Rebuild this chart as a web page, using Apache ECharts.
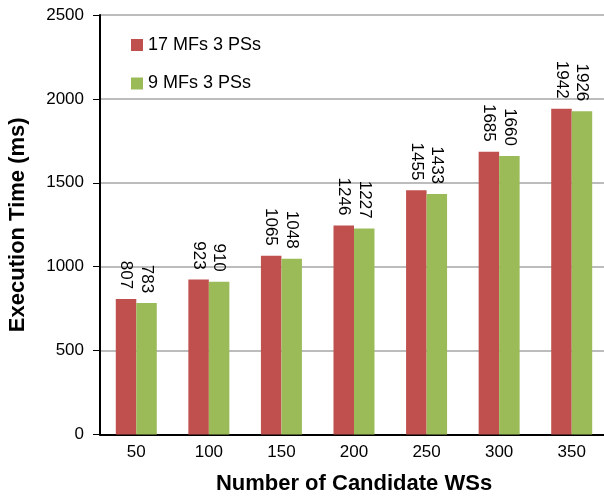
<!DOCTYPE html>
<html>
<head>
<meta charset="utf-8">
<script src="https://cdn.jsdelivr.net/npm/echarts@6/dist/echarts.min.js"></script>
<style>
  html, body { margin: 0; padding: 0; background: #fff; }
  #chart { width: 604px; height: 497px; }
</style>
</head>
<body>
<div id="chart"></div>
<script>
const candidates = ['50', '100', '150', '200', '250', '300', '350'];
const mfs17 = [807, 923, 1065, 1246, 1455, 1685, 1942];
const mfs9 = [783, 910, 1048, 1227, 1433, 1660, 1926];
const seriesNames = ['17 MFs 3 PSs', '9 MFs 3 PSs'];

const fontFamily = '"Liberation Sans", Arial, Helvetica, sans-serif';

const barLabel = {
  show: true,
  position: 'top',
  distance: 10,
  rotate: -90,
  align: 'right',
  verticalAlign: 'middle',
  color: '#000',
  fontFamily: fontFamily,
  fontSize: 17
};

const chart = echarts.init(document.getElementById('chart'));

chart.setOption({
  animation: false,
  textStyle: { fontFamily: fontFamily },
  color: ['#c0504d', '#9bbb59'],
  grid: {
    left: 100,
    right: -4,
    top: 15,
    bottom: 62.5,
    outerBoundsMode: 'none'
  },
  legend: {
    orient: 'vertical',
    left: 126,
    top: 31,
    itemWidth: 12,
    itemHeight: 12,
    itemGap: 20.5,
    icon: 'rect',
    textStyle: {
      color: '#000',
      fontFamily: fontFamily,
      fontSize: 18,
      lineHeight: 18,
      padding: [0, 0, 0, 0]
    },
    data: seriesNames
  },
  xAxis: {
    type: 'category',
    data: candidates,
    name: 'Number of Candidate WSs',
    nameLocation: 'middle',
    nameGap: 38,
    nameTextStyle: {
      color: '#000',
      fontWeight: 'bold',
      fontSize: 22,
      fontFamily: fontFamily
    },
    axisLine: { lineStyle: { color: '#000', width: 2 } },
    axisTick: { show: false },
    axisLabel: {
      color: '#000',
      fontSize: 17,
      margin: 9
    }
  },
  yAxis: {
    type: 'value',
    min: 0,
    max: 2500,
    interval: 500,
    name: 'Execution Time (ms)',
    nameLocation: 'middle',
    nameGap: 71,
    nameTextStyle: {
      color: '#000',
      fontWeight: 'bold',
      fontSize: 22,
      fontFamily: fontFamily
    },
    axisLine: { show: true, lineStyle: { color: '#000', width: 2 } },
    axisTick: { show: true, length: 7, lineStyle: { color: '#000', width: 1 } },
    axisLabel: {
      color: '#000',
      fontSize: 17,
      margin: 16,
      formatter: function (value) {
        return String(value);
      }
    },
    splitLine: { lineStyle: { color: '#a6a6a6', width: 1.5 } }
  },
  series: [
    {
      name: seriesNames[0],
      type: 'bar',
      data: mfs17,
      barWidth: 20.5,
      barGap: '0%',
      label: barLabel
    },
    {
      name: seriesNames[1],
      type: 'bar',
      data: mfs9,
      barWidth: 20.5,
      barGap: '0%',
      label: barLabel
    }
  ]
});
</script>
</body>
</html>
